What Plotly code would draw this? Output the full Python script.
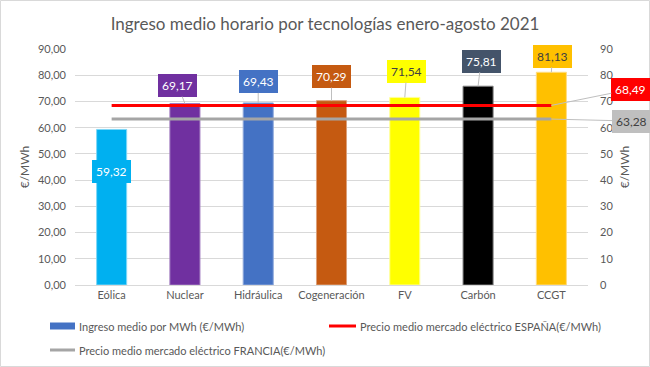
import plotly.graph_objects as go

# ---- data ----
categories = ["Eólica", "Nuclear", "Hidráulica", "Cogeneración", "FV", "Carbón", "CCGT"]
ingreso = [59.32, 69.17, 69.43, 70.29, 71.54, 75.81, 81.13]
precio_espana = 68.49
precio_francia = 63.28
title_text = "Ingreso medio horario por tecnologías enero-agosto 2021"
legend_names = ["Ingreso medio por MWh (€/MWh)",
                "Precio medio mercado eléctrico ESPAÑA(€/MWh)",
                "Precio medio mercado eléctrico FRANCIA(€/MWh)"]

# ---- styles ----
bar_colors = ["#00B0F0", "#7030A0", "#4472C4", "#C55A11", "#FFFF00", "#000000", "#FFC000"]
bar_line = ["#7FD7F7", "#A07ABF", "#8EA9DB", "#DBA07A", "#FFFF99", "#7F7F7F", "#FFDC7F"]
label_bg = ["#00B0F0", "#7030A0", "#4472C4", "#C55A11", "#FFFF00", "#44546A", "#FFC000"]
label_fg = ["white", "white", "white", "white", "#404040", "white", "#404040"]
label_ax = [0, -7, 0, 0, 2, 3, 1]
label_ay = [42, -18, -21, -24, -26, -25, -16]
FONT = "Lato, 'Open Sans', sans-serif"
TXT = "#595959"

W, H = 650, 367
L, R, T, B = 75, 62, 49, 82
pw, ph = W - L - R, H - T - B


def px(x):
    return (x - L) / pw


def py(y):
    return (H - B - y) / ph


def fmt(v):
    return f"{v:.2f}".replace(".", ",")


fig = go.Figure()
fig.add_trace(go.Bar(
    x=categories, y=ingreso, width=0.41,
    marker=dict(color=bar_colors, line=dict(color=bar_line, width=1)),
    showlegend=False, hoverinfo="x+y",
))
fig.add_trace(go.Scatter(
    x=categories, y=[precio_espana] * len(categories), mode="lines",
    line=dict(color="#FF0000", width=3), yaxis="y2", showlegend=False,
))
fig.add_trace(go.Scatter(
    x=categories, y=[precio_francia] * len(categories), mode="lines",
    line=dict(color="#A5A5A5", width=3), yaxis="y2", showlegend=False,
))

annotations = []
for i, (c, v) in enumerate(zip(categories, ingreso)):
    inside = label_ay[i] > 0
    annotations.append(dict(
        x=c, y=v, xref="x", yref="y", text=fmt(v),
        showarrow=not inside, arrowhead=0, arrowwidth=1, arrowcolor="#BFBFBF",
        ax=label_ax[i], ay=label_ay[i],
        yshift=-label_ay[i] if inside else 0,
        bgcolor=label_bg[i], bordercolor=label_bg[i], borderpad=3,
        font=dict(family=FONT, size=12, color=label_fg[i]),
    ))

# right-side line labels
annotations.append(dict(
    x=categories[-1], y=precio_espana, xref="x", yref="y2", text=fmt(precio_espana),
    showarrow=True, arrowhead=0, arrowwidth=1, arrowcolor="#BFBFBF",
    ax=79, ay=-16, bgcolor="#FF0000", bordercolor="#FF0000", borderpad=3,
    font=dict(family=FONT, size=12, color="white"),
))
annotations.append(dict(
    x=categories[-1], y=precio_francia, xref="x", yref="y2", text=fmt(precio_francia),
    showarrow=True, arrowhead=0, arrowwidth=1, arrowcolor="#BFBFBF",
    ax=80, ay=2, bgcolor="#BFBFBF", bordercolor="#BFBFBF", borderpad=3,
    font=dict(family=FONT, size=12, color="#404040"),
))

# custom legend
shapes = [
    dict(type="rect", xref="paper", yref="paper",
         x0=px(0.5), x1=px(W - 0.5), y0=py(0.5), y1=py(H - 0.5),
         line=dict(color="#D9D9D9", width=1), fillcolor="rgba(0,0,0,0)", layer="below"),
    dict(type="rect", xref="paper", yref="paper",
         x0=px(50), x1=px(75), y0=py(322.5), y1=py(329.5),
         line=dict(width=0), fillcolor="#4472C4"),
    dict(type="line", xref="paper", yref="paper",
         x0=px(329), x1=px(356), y0=py(326), y1=py(326),
         line=dict(color="#FF0000", width=3)),
    dict(type="line", xref="paper", yref="paper",
         x0=px(50), x1=px(75), y0=py(350), y1=py(350),
         line=dict(color="#A5A5A5", width=3)),
]
for name, lx, ly in [(legend_names[0], 77, 326), (legend_names[1], 358, 326), (legend_names[2], 77, 350)]:
    annotations.append(dict(
        x=px(lx), y=py(ly), xref="paper", yref="paper", text=name,
        showarrow=False, xanchor="left", yanchor="middle",
        font=dict(family=FONT, size=11, color=TXT),
    ))

fig.update_layout(
    width=W, height=H,
    margin=dict(l=L, r=R, t=T, b=B),
    paper_bgcolor="white", plot_bgcolor="white",
    separators=",.",
    title=dict(text=title_text, x=0.5, xanchor="center", y=1 - 24 / H, yanchor="middle",
               font=dict(family=FONT, size=17, color=TXT)),
    font=dict(family=FONT, size=11, color=TXT),
    xaxis=dict(showgrid=False, showline=True, linecolor="#D9D9D9", linewidth=1,
               range=[-0.5, len(categories) - 0.5], autorange=False,
               ticks="", tickfont=dict(family=FONT, size=11, color=TXT)),
    yaxis=dict(range=[0, 90], dtick=10, tickformat=".2f", showgrid=True,
               gridcolor="#D9D9D9", gridwidth=1, zeroline=False, ticks="",
               ticklabelstandoff=8,
               title=dict(text="€/MWh", standoff=5, font=dict(family=FONT, size=12, color=TXT)),
               tickfont=dict(family=FONT, size=11, color=TXT)),
    yaxis2=dict(range=[0, 90], dtick=10, tickformat="d", overlaying="y", side="right",
                showgrid=False, zeroline=False, ticks="", ticklabelstandoff=11,
                title=dict(text="€/MWh", standoff=8, font=dict(family=FONT, size=12, color=TXT)),
                tickfont=dict(family=FONT, size=11, color=TXT)),
    annotations=annotations,
    shapes=shapes,
    bargap=0.6,
)

fig.write_html(
    "out.html",
    config={"displayModeBar": False},
    post_script="document.body.style.margin='0';document.body.style.padding='0';"
                "document.body.style.overflow='hidden';",
)
